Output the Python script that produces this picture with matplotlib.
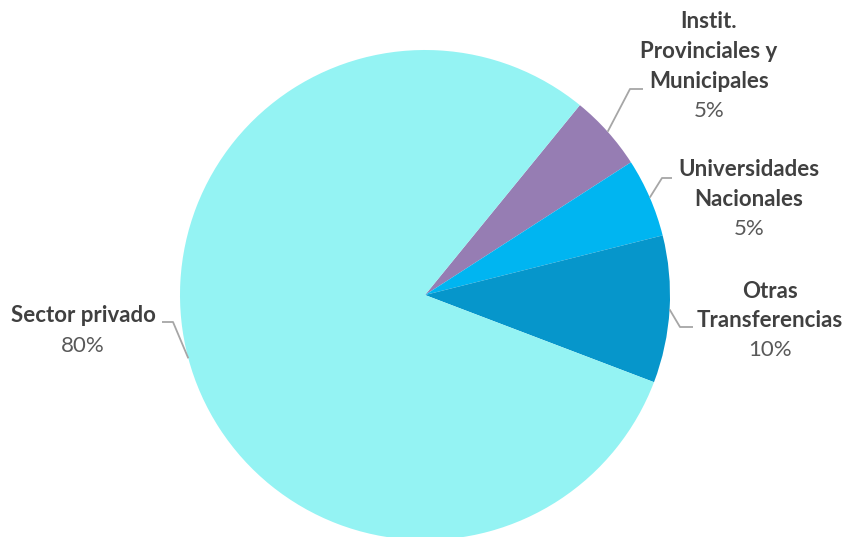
import matplotlib
matplotlib.use("Agg")
import matplotlib.pyplot as plt
import numpy as np

# ---- data ----
categories = ["Instit.\nProvinciales y\nMunicipales", "Universidades\nNacionales",
              "Otras\nTransferencias", "Sector privado"]
values = [5.0, 5.2, 9.7, 80.1]
colors = ["#967DB3", "#00B5F1", "#0696CB", "#94F3F3"]

W, H = 845, 537
fig = plt.figure(figsize=(W / 100, H / 100), dpi=100)
ax = fig.add_axes([0, 0, 1, 1])
ax.set_xlim(0, W)
ax.set_ylim(0, H)
ax.set_aspect("equal")
ax.axis("off")

cx, cy, R = 425, H - 295, 245
wedges, _ = ax.pie(values, colors=colors, startangle=50.8, counterclock=False,
                   center=(cx, cy), radius=R, frame=True,
                   wedgeprops=dict(linewidth=0))
ax.set_xlim(0, W)
ax.set_ylim(0, H)
ax.axis("off")

# label layout: (text center x, first line y (px from top), elbow (x,y), end (x,y))
layout = [
    (709, 22, (630, 89), (643, 89)),
    (749, 170, (662, 178), (672, 178)),
    (770, 291, (680, 327), (693, 327)),
    (83, 316, (173, 322), (162, 322)),
]
font = "Lato"
lh = 29.7
for w, cat, v, (tx, ty, elb, end) in zip(wedges, categories, values, layout):
    mid = np.deg2rad((w.theta1 + w.theta2) / 2)
    sx, sy = cx + R * np.cos(mid), cy + R * np.sin(mid)
    ax.plot([sx, elb[0], end[0]], [sy, H - elb[1], H - end[1]],
            color="#A6A6A6", lw=1.3, solid_capstyle="butt")
    lines = cat.split("\n")
    for i, ln in enumerate(lines):
        ax.text(tx, H - (ty + i * lh), ln, ha="center", va="center",
                fontsize=16, fontweight="bold", color="#404040", family=font)
    ax.text(tx, H - (ty + len(lines) * lh), f"{round(v)}%", ha="center", va="center",
            fontsize=16, color="#595959", family=font)

fig.savefig("out.png", dpi=100)
